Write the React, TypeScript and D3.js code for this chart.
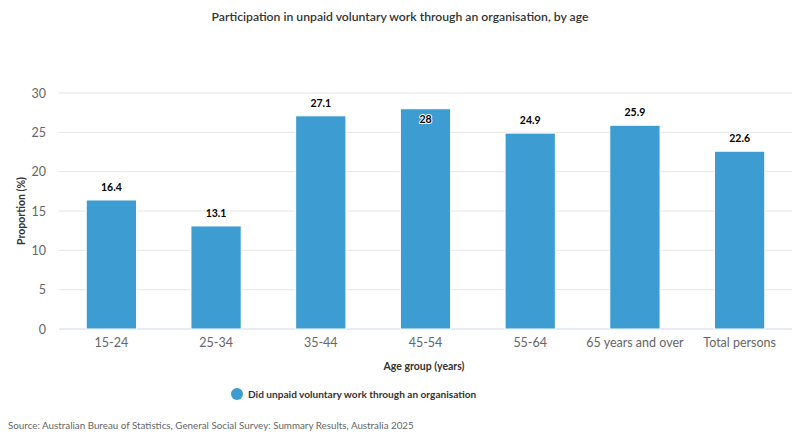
import React from "react";
import * as d3 from "d3";

const categories = ["15-24", "25-34", "35-44", "45-54", "55-64", "65 years and over", "Total persons"];
const values = [16.4, 13.1, 27.1, 28, 24.9, 25.9, 22.6];
const yTicks = [0, 5, 10, 15, 20, 25, 30];

const W = 800;
const H = 444;
const M = { left: 59, right: 8, top: 93, bottom: 115 };
const FONT = "Lato, 'Open Sans', sans-serif";
const BAR = "#3d9cd2";

export default function App() {
  const x = d3.scaleBand().domain(categories).range([M.left, W - M.right]).paddingInner(0.52).paddingOuter(0.26);
  const y = d3.scaleLinear().domain([0, 30]).range([H - M.bottom, M.top]);

  return (
    <svg width={W} height={H} style={{ position: "absolute", left: 0, top: 0, background: "#fff" }} fontFamily={FONT}>
      <text x={W / 2} y={21} textAnchor="middle" fontSize={12.2} fontWeight={600} fill="#333">
        Participation in unpaid voluntary work through an organisation, by age
      </text>

      {/* grid + y labels */}
      {yTicks.map((t) => (
        <g key={t}>
          <line x1={M.left} x2={W - M.right} y1={y(t)} y2={y(t)} stroke={t === 0 ? "#ccd6eb" : "#e6e6e6"} strokeWidth={1} />
          <text x={46} y={y(t) + 4.5} textAnchor="end" fontSize={12.5} fill="#666">{t}</text>
        </g>
      ))}

      {/* bars */}
      {values.map((v, i) => {
        const cx = x(categories[i])! + x.bandwidth() / 2;
        const inside = v >= 28;
        const ly = inside ? y(v) + 14 : y(v) - 9;
        return (
          <g key={categories[i]}>
            <rect x={x(categories[i])} y={y(v)} width={x.bandwidth()} height={y(0) - y(v)} fill={BAR} stroke="#fff" strokeWidth={1} />
            <text x={cx} y={ly} textAnchor="middle" fontSize={10.5} fontWeight={700} fill="#000"
              stroke="#fff" strokeWidth={2} paintOrder="stroke" strokeLinejoin="round">{v}</text>
            <text x={cx} y={y(0) + 18} textAnchor="middle" fontSize={12.5} fill="#666">{categories[i]}</text>
          </g>
        );
      })}

      <text x={424} y={370} textAnchor="middle" fontSize={10.5} fontWeight={700} fill="#333">Age group (years)</text>
      <text transform={`translate(25,${(y(0) + y(30)) / 2}) rotate(-90)`} textAnchor="middle" fontSize={10.5} fontWeight={700} fill="#333">
        Proportion (%)
      </text>

      {/* legend */}
      <circle cx={237} cy={394} r={6} fill={BAR} />
      <text x={248} y={398} fontSize={10.1} fontWeight={700} fill="#333">Did unpaid voluntary work through an organisation</text>

      <text x={8} y={429} fontSize={9.8} fill="#666">
        Source: Australian Bureau of Statistics, General Social Survey: Summary Results, Australia 2025
      </text>
    </svg>
  );
}
